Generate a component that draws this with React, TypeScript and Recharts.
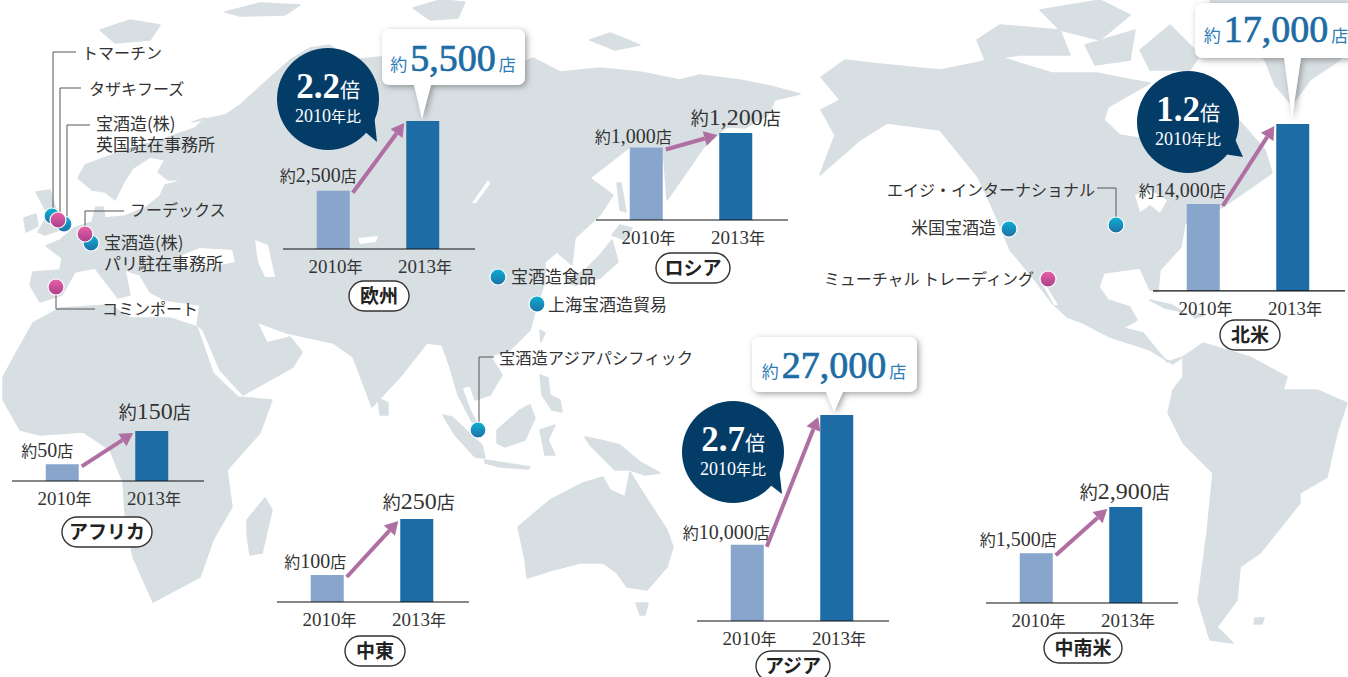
import { BarChart, Bar, XAxis, YAxis, Cell, LabelList } from "recharts";

const years = ["2010年", "2013年"];
const europeStores = [2500, 5500];
const russiaStores = [1000, 1200];
const asiaStores = [10000, 27000];
const northAmericaStores = [14000, 17000];
const africaStores = [50, 150];
const middleEastStores = [100, 250];
const latinAmericaStores = [1500, 2900];

const BAR_COLORS = ["#88a5cc", "#1d6ca5"];
const LAND = "#d8dfe3";
const ARROW = "#b06fa3";
const SERIF = "'Liberation Serif', 'Noto Sans CJK JP', serif";
const JP = "'Noto Sans CJK JP', sans-serif";

// rough outline of the land behind the charts
const LAND_SHAPES = [
  "30,285 33,272 60,270 62,258 46,246 60,240 74,228 92,222 96,207 103,207 105,218 125,216 145,208 160,196 165,185 185,180 168,180 158,172 165,160 150,157 133,168 125,180 115,200 105,192 92,190 78,178 85,165 125,150 160,140 195,128 205,118 192,122 225,115 240,105 262,85 290,60 310,48 330,45 350,60 400,55 450,62 500,72 533,58 560,72 600,68 640,72 680,80 700,75 740,80 770,86 800,94 775,100 768,115 745,128 727,127 703,148 690,167 667,200 663,147 630,147 590,178 613,195 600,215 575,238 572,265 557,252 545,262 545,282 537,305 530,330 510,350 490,356 502,375 490,395 475,400 470,385 462,388 470,410 478,425 472,422 458,395 450,367 442,345 427,343 400,377 372,407 353,357 333,343 287,333 257,322 267,343 290,337 302,352 293,367 243,395 220,370 203,330 197,325 200,305 165,300 150,292 140,275 125,270 130,295 118,298 95,268 75,272 62,295 40,302",
  "33,323 60,308 110,305 130,318 170,318 197,327 213,373 238,397 272,400 260,433 227,470 232,507 213,540 200,577 153,602 133,557 125,513 123,482 110,450 83,432 40,435 20,430 3,400 3,377 15,355",
  "247,520 265,498 272,510 262,553 250,555 247,535",
  "36,192 50,190 56,210 65,228 45,235 38,232 48,215",
  "24,218 36,214 38,226 26,232",
  "100,30 130,20 160,25 150,40 115,43",
  "225,12 260,3 300,5 285,15 240,16",
  "413,8 440,0 465,2 458,18 430,20",
  "590,40 610,33 640,45 615,50",
  "620,225 632,228 625,240 612,235",
  "612,240 618,262 600,278 575,285 565,282 585,270 600,255",
  "617,183 621,183 626,212 620,210",
  "540,330 545,333 541,342",
  "378,398 388,403 388,415 380,415",
  "540,375 548,378 550,395 560,400 562,412 552,410 542,395",
  "443,415 452,417 482,445 485,458 475,457 455,435",
  "497,430 520,410 530,405 535,418 525,440 505,447 497,443",
  "485,460 505,463 530,467 528,469 500,467 485,463",
  "540,430 555,425 548,440 555,455 545,455",
  "585,437 600,440 620,445 640,462 660,473 645,475 630,470 615,470 600,455 590,445",
  "518,527 550,500 583,483 603,477 610,490 625,497 630,472 643,493 667,530 673,547 667,567 647,590 627,587 617,573 603,563 580,563 553,570 527,578 525,560",
  "636,603 648,603 645,615 640,615",
  "821,77 845,60 870,63 940,70 975,63 1000,57 1052,73 1097,73 1132,80 1150,83 1108,107 1104,120 1120,135 1150,140 1174,133 1185,73 1230,110 1265,150 1272,173 1223,207 1185,223 1181,247 1160,270 1158,292 1150,290 1140,268 1104,273 1099,287 1108,300 1130,307 1137,320 1123,328 1143,333 1167,362 1183,357 1173,364 1150,350 1110,337 1083,323 1067,317 1052,303 1035,280 1010,250 992,207 978,177 940,130 887,123 860,140 820,175 835,135 821,110 840,100",
  "977,40 1000,25 1060,30 1070,55 1020,55 985,60",
  "1040,10 1100,0 1130,15 1100,40 1060,30",
  "1085,45 1135,30 1130,60 1095,65",
  "1140,50 1170,25 1200,55 1190,70 1150,70",
  "1210,0 1348,0 1348,40 1340,60 1310,80 1292,105 1275,85 1265,60 1240,40 1215,20",
  "1150,300 1172,305 1183,312 1165,308",
  "1190,312 1205,315 1195,318",
  "1183,357 1203,343 1250,357 1287,377 1283,390 1317,390 1347,403 1337,433 1327,477 1300,493 1300,503 1273,537 1260,553 1240,567 1237,600 1217,627 1233,643 1210,640 1198,600 1207,533 1213,473 1183,443 1168,413 1173,390 1183,377",
  "1255,618 1264,618 1262,624 1254,624",
];
const WATER_SHAPES = [
  "175,258 200,248 232,250 235,262 205,268 180,268",
  "255,240 268,245 275,277 265,277 258,262",
  "358,238 378,236 376,242 360,244",
  "488,180 490,184 476,203 472,203",
  "1135,195 1150,190 1167,200 1160,213 1150,205 1140,212",
  "1040,280 1044,282 1058,305 1054,305",
];

const PINS_BLUE = [
  [52, 216],
  [64, 224],
  [91, 243],
  [498, 277],
  [537, 304],
  [478, 430],
  [1009, 229],
  [1116, 225],
];
const PINS_PINK = [
  [58, 220],
  [85, 234],
  [56, 287],
  [1048, 279],
];

const LEADERS = [
  "53,210 53,52 76,52",
  "60,215 60,88 81,88",
  "67,218 67,125 90,125",
  "85,228 85,211 124,211",
  "56,295 56,309 95,309",
  "479,423 479,357 494,357",
  "1097,188 1116,188 1116,218",
];

const COMPANY_LABELS: [string[], number, number, "start" | "end", number][] = [
  [["トマーチン"], 82, 53, "start", 16],
  [["タザキフーズ"], 89, 89, "start", 16],
  [["宝酒造(株)", "英国駐在事務所"], 96, 124, "start", 17],
  [["フーデックス"], 130, 210, "start", 16],
  [["宝酒造(株)", "パリ駐在事務所"], 104, 243, "start", 17],
  [["コミンポート"], 102, 309, "start", 16],
  [["宝酒造食品"], 511, 277, "start", 17],
  [["上海宝酒造貿易"], 548, 305, "start", 17],
  [["宝酒造アジアパシフィック"], 499, 358, "start", 16.3],
  [["エイジ・インターナショナル"], 1095, 190, "end", 16],
  [["米国宝酒造"], 996, 228, "end", 17],
  [["ミューチャル トレーディング"], 1034, 279, "end", 16],
];

const REGION_PILLS: [string, number, number, number][] = [
  ["欧州", 379, 296, 60],
  ["ロシア", 693, 268, 74],
  ["アフリカ", 107, 532, 90],
  ["中東", 375, 651, 60],
  ["アジア", 793, 666, 74],
  ["中南米", 1083, 648, 78],
  ["北米", 1250, 335, 60],
];

const PLOT_WIDTH = 192;
const SIDE = 70;
const TOP = 50;
const AXIS_H = 30;

function StoreLabel({ x, y, width, value, index, dx, dy, pxPerStore, stores }: any) {
  const big = index === 1;
  const cx = x + width / 2 + dx[index];
  const left = x + width + 3;
  const top = y + 2;
  const tipX = x + 89.5 - 2;
  const tipY = y - (stores[1] - stores[0]) * pxPerStore + 2;
  const angle = Math.atan2(tipY - top, tipX - left);
  const backX = tipX - 13 * Math.cos(angle);
  const backY = tipY - 13 * Math.sin(angle);
  const nx = -Math.sin(angle) * 7.5;
  const ny = Math.cos(angle) * 7.5;
  return (
    <g>
      <text
        x={cx}
        y={y + dy[index]}
        textAnchor="middle"
        fontFamily={SERIF}
        fill="#333"
        fontSize={big ? 18 : 16}
      >
        約<tspan fontSize={big ? 24 : 20}>{Number(value).toLocaleString("en-US")}</tspan>店
      </text>
      {!big && (
        <g>
          <line x1={left} y1={top} x2={backX} y2={backY} stroke={ARROW} strokeWidth={4} />
          <polygon
            points={`${tipX},${tipY} ${backX + nx},${backY + ny} ${backX - nx},${backY - ny}`}
            fill={ARROW}
          />
        </g>
      )}
    </g>
  );
}

function YearTick({ x, y, payload }: any) {
  return (
    <text x={x + 2} y={y + 16} textAnchor="middle" fontFamily={SERIF} fontSize={19} fill="#333">
      {payload.value.slice(0, 4)}
      <tspan fontSize={16}>{payload.value.slice(4)}</tspan>
    </text>
  );
}

function RegionChart({ stores, axisLeft, baseline, pxPerStore, floor = 0, dx, dy, hideSecond }: any) {
  const data = years.map((year, i) => ({ year, stores: stores[i] }));
  const plotH = (stores[1] - floor) * pxPerStore;
  const height = TOP + plotH + AXIS_H;
  return (
    <div style={{ position: "absolute", left: axisLeft - SIDE, top: baseline - plotH - TOP }}>
      <BarChart
        width={PLOT_WIDTH + SIDE * 2}
        height={height}
        data={data}
        margin={{ top: TOP, right: SIDE, bottom: 0, left: SIDE }}
      >
        <XAxis
          dataKey="year"
          height={AXIS_H}
          interval={0}
          padding={{ left: 5.75, right: 7.25 }}
          tickLine={false}
          stroke="#111"
          axisLine={{ stroke: "#111", strokeWidth: 1.2 }}
          tick={<YearTick />}
        />
        <YAxis hide domain={[floor, stores[1]]} allowDataOverflow />
        <Bar dataKey="stores" barSize={33} isAnimationActive={false}>
          {data.map((_, i) => (
            <Cell key={i} fill={BAR_COLORS[i]} />
          ))}
          <LabelList
            dataKey="stores"
            content={(p: any) =>
              hideSecond && p.index === 1 ? null : (
                <StoreLabel {...p} dx={dx} dy={dy} pxPerStore={pxPerStore} stores={stores} />
              )
            }
          />
        </Bar>
      </BarChart>
    </div>
  );
}

function WorldMap() {
  return (
    <svg width={1348} height={677} style={{ position: "absolute", left: 0, top: 0 }}>
      {LAND_SHAPES.map((pts, i) => (
        <polygon key={i} points={pts} fill={LAND} stroke={LAND} strokeLinejoin="round" strokeWidth={1.5} />
      ))}
      {WATER_SHAPES.map((pts, i) => (
        <polygon key={i} points={pts} fill="#fff" />
      ))}
    </svg>
  );
}

function Callout({ x, y, w, h, tailX, tipY, cx, base, value }: any) {
  return (
    <g>
      <path
        d={`M${x + 8},${y} H${x + w - 8} Q${x + w},${y} ${x + w},${y + 8} V${y + h - 8} Q${x + w},${y + h} ${x + w - 8},${y + h} H${tailX + 9} L${tailX},${tipY} L${tailX - 8},${y + h} H${x + 8} Q${x},${y + h} ${x},${y + h - 8} V${y + 8} Q${x},${y} ${x + 8},${y} Z`}
        fill="#fff"
        filter="url(#calloutShadow)"
      />
      <text x={cx} y={base} textAnchor="middle" fontFamily={SERIF} fontSize={17} fill="#2c7db8">
        約
        <tspan fontSize={38} fill="#1d6ca5" stroke="#1d6ca5" strokeWidth={0.7} dx={3}>
          {value}
        </tspan>
        <tspan dx={3}>店</tspan>
      </text>
    </g>
  );
}

function RatioBubble({ cx, cy, tipX, tipY, ratio }: any) {
  return (
    <g>
      <polygon points={`${cx + 36},${cy + 32} ${cx + 46},${cy + 15} ${tipX},${tipY}`} fill="#043c68" />
      <circle cx={cx} cy={cy} r={51} fill="#043c68" />
      <text x={cx} y={cy - 1} textAnchor="middle" fontFamily={SERIF} fill="#fff" fontSize={20}>
        <tspan fontSize={35} fontWeight={700}>
          {ratio}
        </tspan>
        倍
      </text>
      <text x={cx} y={cy + 23} textAnchor="middle" fontFamily={SERIF} fill="#fff" fontSize={18}>
        2010<tspan fontSize={15}>年比</tspan>
      </text>
    </g>
  );
}

function Overlay() {
  return (
    <svg width={1348} height={677} style={{ position: "absolute", left: 0, top: 0 }}>
      <defs>
        <filter id="calloutShadow" x="-20%" y="-20%" width="140%" height="150%">
          <feDropShadow dx="2" dy="2" stdDeviation="3" floodColor="#555" floodOpacity="0.55" />
        </filter>
        <linearGradient id="pinBlue" x1="0" y1="0" x2="0" y2="1">
          <stop offset="0%" stopColor="#0cb0d2" />
          <stop offset="100%" stopColor="#1f6ea6" />
        </linearGradient>
        <linearGradient id="pinPink" x1="0" y1="0" x2="0" y2="1">
          <stop offset="0%" stopColor="#ea5fa6" />
          <stop offset="100%" stopColor="#a8408a" />
        </linearGradient>
      </defs>

      {LEADERS.map((pts, i) => (
        <polyline key={i} points={pts} fill="none" stroke="#555" strokeWidth={1} />
      ))}
      {PINS_BLUE.map(([x, y], i) => (
        <circle key={i} cx={x} cy={y} r={8} fill="url(#pinBlue)" stroke="#fff" strokeWidth={1.2} />
      ))}
      {PINS_PINK.map(([x, y], i) => (
        <circle key={i} cx={x} cy={y} r={8} fill="url(#pinPink)" stroke="#fff" strokeWidth={1.2} />
      ))}
      {COMPANY_LABELS.map(([lines, x, y, anchor, size], i) => (
        <text key={i} x={x} y={y + 6} textAnchor={anchor} fontFamily={JP} fontSize={size} fill="#333">
          {lines.map((line, j) => (
            <tspan key={j} x={x} dy={j === 0 ? 0 : 21}>
              {line}
            </tspan>
          ))}
        </text>
      ))}

      {REGION_PILLS.map(([label, cx, cy, w]) => (
        <g key={label}>
          <rect x={cx - w / 2} y={cy - 15} width={w} height={30} rx={15} fill="#fff" stroke="#333" strokeWidth={1.4} />
          <text x={cx} y={cy + 7} textAnchor="middle" fontFamily={JP} fontWeight={700} fontSize={19} fill="#222">
            {label}
          </text>
        </g>
      ))}

      <RatioBubble cx={328} cy={99} tipX={377} tipY={142} ratio="2.2" />
      <RatioBubble cx={733} cy={452} tipX={782} tipY={494} ratio="2.7" />
      <RatioBubble cx={1188} cy={122} tipX={1243} tipY={157} ratio="1.2" />

      <Callout x={382} y={29} w={143} h={56} tailX={422} tipY={119} cx={453} base={71} value="5,500" />
      <Callout x={752} y={337} w={165} h={55} tailX={834} tipY={412} cx={834} base={378} value="27,000" />
      <Callout x={1195} y={3} w={170} h={55} tailX={1292} tipY={118} cx={1276} base={42} value="17,000" />
    </svg>
  );
}

export default function App() {
  return (
    <div
      style={{
        position: "absolute",
        left: 0,
        top: 0,
        width: 1348,
        height: 677,
        overflow: "hidden",
        background: "#fff",
      }}
    >
      <WorldMap />
      <RegionChart stores={europeStores} axisLeft={283} baseline={249} pxPerStore={0.02327} dx={[-15, 0]} dy={[-9, -8]} hideSecond />
      <RegionChart stores={russiaStores} axisLeft={596} baseline={220} pxPerStore={0.0725} dx={[-13, 0]} dy={[-5, -8]} />
      <RegionChart stores={asiaStores} axisLeft={697} baseline={621} pxPerStore={0.00763} dx={[-21, 0]} dy={[-6, -8]} hideSecond />
      <RegionChart stores={northAmericaStores} axisLeft={1153} baseline={291} pxPerStore={0.02666} floor={10737} dx={[-21, 0]} dy={[-7, -8]} hideSecond />
      <RegionChart stores={africaStores} axisLeft={12} baseline={481} pxPerStore={0.3333} dx={[-15, 3]} dy={[-7, -12]} />
      <RegionChart stores={middleEastStores} axisLeft={277} baseline={602} pxPerStore={0.3733} floor={27.7} dx={[-12, 2]} dy={[-7, -10]} />
      <RegionChart stores={latinAmericaStores} axisLeft={986} baseline={603} pxPerStore={0.0331} dx={[-18, -1]} dy={[-7, -8]} />
      <Overlay />
    </div>
  );
}
